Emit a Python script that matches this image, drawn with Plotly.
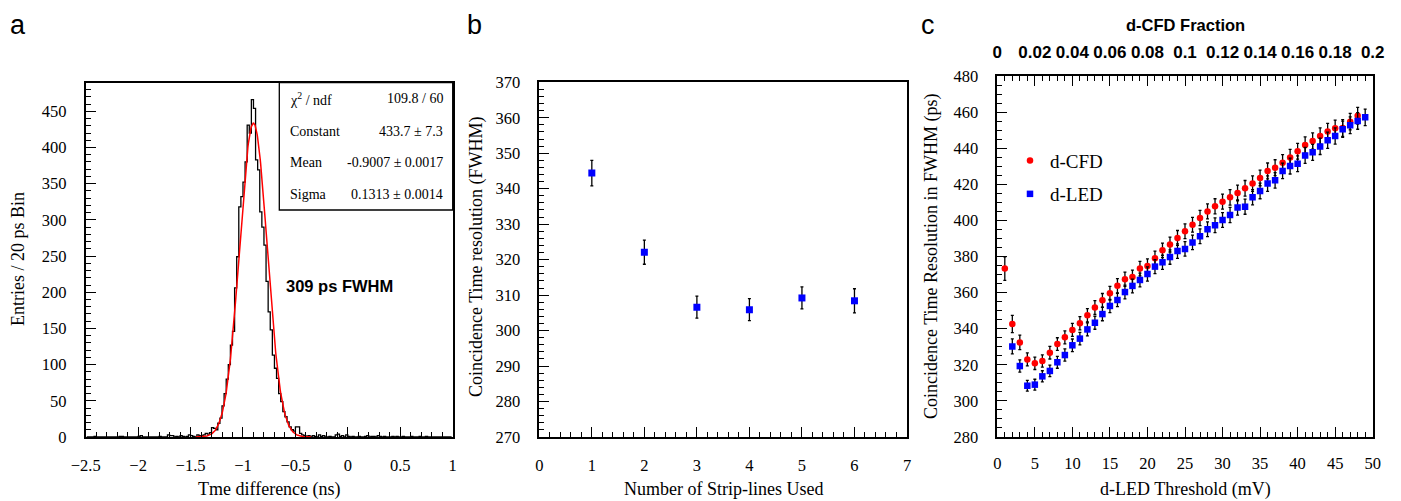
import plotly.graph_objects as go
import numpy as np

# The page places the plot 8 px in from the top-left corner (body margin),
# so the figure is sized to the remaining area and positions are given in page pixels.
PAGE_OFF = 8
W, H = 1401 - PAGE_OFF, 501 - PAGE_OFF
def px_x(p): return (p - PAGE_OFF) / W
def px_y(p): return 1 - (p - PAGE_OFF) / H

# ---------------- Panel a : histogram ----------------
hist_lo, hist_hi, bin_w = -2.5, 1.0, 0.02
counts = [0,0,0,0,1,0,0,0,0,0,0,0,0,0,0,0,1,1,0,0,
          0,0,0,0,0,1,2,0,0,0, 0,0,0,0,0,1,0,0,0,3,
          2,2,0,1,0,2,1,0,1,3, 2,1,0,3,2,
          2,3,5,4,6,13,12,10,19,26,43,60,80,100,127,146,206,249,318,332,
          352,380,431,420,466,454,383,369,311,290,265,215,173,148,113,95,81,60,49,35,
          28,21,14,10,8,14,14,5,3,2,
          1,2,0,2,1,0,3,1,2,0, 0,1,0,0,3,4,1,2,0,3,
          1,0,1,0,0,1,0,0,1,2, 0,1,1,0,2,1,0,1,0,0,
          0,1,0,1,0,0,1,0,0,0, 1,0,0,0,1,0,0,1,0,0,
          0,0,0,0,0,0,0,0,0,0]
bin_centers = [hist_lo + bin_w * (i + 0.5) for i in range(len(counts))]
fit_const, fit_mean, fit_sigma = 433.7, -0.9007, 0.1313
fit_lo, fit_hi = -1.45, -0.35

# ---------------- Panel b ----------------
strips = [1, 2, 3, 4, 5, 6]
strip_res = [344.4, 322.1, 306.6, 305.9, 309.2, 308.4]
strip_err = [3.6, 3.4, 3.1, 3.1, 3.1, 3.4]

# ---------------- Panel c ----------------
cfd_thr = list(range(1, 49))
cfd_res = [373.3, 342.6, 332.4, 323.0, 320.8, 322.1, 326.7, 331.5, 335.2, 339.3,
           343.0, 347.4, 351.7, 355.7, 359.6, 363.8, 367.4, 368.6, 373.3, 374.7,
           379.0, 383.4, 386.6, 390.3, 394.0, 397.6, 401.3, 405.0, 407.8, 410.4,
           412.8, 415.2, 417.8, 420.4, 423.5, 427.4, 429.2, 432.0, 434.9, 438.3,
           441.8, 444.0, 446.8, 449.3, 451.0, 451.2, 454.7, 458.0]
cfd_err = [6.5, 4.8, 4.0, 3.6, 3.4, 3.4, 3.5, 3.5, 3.6, 3.6, 3.7, 3.7, 3.8, 3.8, 3.8, 3.9,
           3.9, 3.9, 4.0, 4.0, 4.0, 4.0, 4.1, 4.1, 4.1, 4.1, 4.2, 4.2, 4.2, 4.2, 4.3, 4.3,
           4.3, 4.3, 4.3, 4.4, 4.4, 4.4, 4.4, 4.4, 4.5, 4.5, 4.5, 4.5, 4.5, 4.6, 4.6, 4.6]
led_thr = list(range(2, 50))
led_res = [330.2, 319.3, 308.4, 309.0, 313.6, 316.6, 321.4, 325.4, 330.8, 334.5,
           339.6, 343.3, 348.1, 352.6, 355.9, 360.3, 363.7, 367.0, 370.3, 374.4,
           376.8, 379.7, 383.0, 384.2, 387.8, 391.2, 395.1, 397.3, 400.2, 403.0,
           407.1, 407.6, 412.8, 416.3, 420.4, 422.2, 427.4, 430.1, 431.4, 436.0,
           437.7, 441.0, 444.4, 446.8, 450.5, 452.7, 455.1, 457.1]
led_err = [4.2, 3.4, 3.0, 3.0, 3.1, 3.2, 3.3, 3.4, 3.5, 3.5, 3.6, 3.6, 3.7, 3.7, 3.7, 3.8,
           3.8, 3.8, 3.9, 3.9, 3.9, 4.0, 4.0, 4.0, 4.0, 4.1, 4.1, 4.1, 4.1, 4.2, 4.2, 4.2,
           4.2, 4.3, 4.3, 4.3, 4.3, 4.4, 4.4, 4.4, 4.4, 4.5, 4.5, 4.5, 4.5, 4.6, 4.6, 4.6]
frac_ticks = [0, 0.02, 0.04, 0.06, 0.08, 0.1, 0.12, 0.14, 0.16, 0.18, 0.2]

SERIF = "Liberation Serif, Times New Roman, serif"
SANS = "Liberation Sans, Arial, sans-serif"

fig = go.Figure()

# histogram (step)
fig.add_trace(go.Scatter(x=bin_centers, y=counts, mode="lines", line_shape="hvh",
                         line=dict(color="black", width=1.3), xaxis="x", yaxis="y",
                         showlegend=False, hoverinfo="skip"))
fx = np.linspace(fit_lo, fit_hi, 300)
fy = fit_const * np.exp(-0.5 * ((fx - fit_mean) / fit_sigma) ** 2)
fig.add_trace(go.Scatter(x=fx, y=fy, mode="lines", line=dict(color="#ff0000", width=1.5),
                         xaxis="x", yaxis="y", showlegend=False, hoverinfo="skip"))

# panel b
fig.add_trace(go.Scatter(x=strips, y=strip_res, mode="markers",
                         marker=dict(symbol="square", size=7, color="#0000ff"),
                         error_y=dict(type="data", array=strip_err, color="black",
                                      thickness=1.3, width=1.5),
                         xaxis="x2", yaxis="y2", showlegend=False))

# panel c
fig.add_trace(go.Scatter(x=cfd_thr, y=cfd_res, mode="markers", name="d-CFD",
                         marker=dict(symbol="circle", size=6.5, color="#ff0000"),
                         error_y=dict(type="data", array=cfd_err, color="black",
                                      thickness=1.3, width=1.5),
                         xaxis="x3", yaxis="y3", legend="legend"))
fig.add_trace(go.Scatter(x=led_thr, y=led_res, mode="markers", name="d-LED",
                         marker=dict(symbol="square", size=6.5, color="#0000ff"),
                         error_y=dict(type="data", array=led_err, color="black",
                                      thickness=1.3, width=1.5),
                         xaxis="x3", yaxis="y3", legend="legend2"))
# carrier for top axis
fig.add_trace(go.Scatter(x=[frac_ticks[0], frac_ticks[-1]], y=[300, 300], mode="markers",
                         marker=dict(opacity=0), xaxis="x4", yaxis="y3",
                         showlegend=False, hoverinfo="skip"))

tickfont = dict(family=SERIF, size=16.5, color="black")

def ax(domain, rng, dtick, minor_dtick, anchor, standoff, tick0):
    return dict(domain=domain, range=rng, dtick=dtick, tick0=tick0,
                ticks="inside", ticklen=10, tickwidth=1.2, tickcolor="black",
                minor=dict(ticks="inside", ticklen=5, dtick=minor_dtick, tickwidth=1.2,
                           tickcolor="black"),
                showline=True, linecolor="black", linewidth=1.6, mirror=True,
                showgrid=False, zeroline=False, tickfont=tickfont, anchor=anchor,
                ticklabelstandoff=standoff, fixedrange=True, automargin=False)

xa = ax([px_x(85.7), px_x(452.7)], [-2.5, 1], 0.5, 0.1, "y", 12, -2.5)
ya = ax([px_y(437), px_y(82.7)], [0, 489.5], 50, 10, "x", 14, 0)
xb = ax([px_x(539.3), px_x(907)], [0, 7], 1, 0.2, "y2", 12, 0)
yb = ax([px_y(437), px_y(82.3)], [270, 370], 10, 2, "x2", 14, 270)
xc = ax([px_x(997.3), px_x(1372.7)], [0, 50], 5, 1, "y3", 10, 0)
yc = ax([px_y(437), px_y(76)], [280, 480], 20, 5, "x3", 14, 280)
xd = dict(domain=[px_x(997.3), px_x(1372.7)], range=[0, 0.2], overlaying="x3", side="top",
          anchor="y3", tickvals=frac_ticks, ticks="inside", ticklen=10, tickwidth=1.2,
          tickcolor="black",
          minor=dict(ticks="inside", ticklen=5, dtick=0.004, tick0=0, tickwidth=1.2,
                     tickcolor="black"),
          showline=False, showgrid=False, zeroline=False,
          tickfont=dict(family=SANS, size=17, color="black", weight="bold"),
          ticklabelstandoff=14, fixedrange=True, automargin=False)

fig.update_layout(
    width=W, height=H, margin=dict(l=0, r=0, t=0, b=0, autoexpand=False),
    paper_bgcolor="white", plot_bgcolor="white",
    xaxis=xa, yaxis=ya, xaxis2=xb, yaxis2=yb, xaxis3=xc, yaxis3=yc, xaxis4=xd,
    legend=dict(x=px_x(1010), y=px_y(160.7), xanchor="left", yanchor="middle",
                font=dict(family=SERIF, size=19, color="black"), bgcolor="rgba(0,0,0,0)",
                itemwidth=30),
    legend2=dict(x=px_x(1010), y=px_y(194), xanchor="left", yanchor="middle",
                 font=dict(family=SERIF, size=19, color="black"), bgcolor="rgba(0,0,0,0)",
                 itemwidth=30),
)

# stats box
fig.add_shape(type="rect", xref="paper", yref="paper",
              x0=px_x(279.3), x1=px_x(452.7), y0=px_y(210), y1=px_y(82.7),
              line=dict(color="black", width=1.3), fillcolor="white", layer="above")

ann = []
def A(text, x, y, xa_="center", ya_="middle", font=None, angle=0):
    ann.append(dict(text=text, x=px_x(x), y=px_y(y), xref="paper", yref="paper",
                    xanchor=xa_, yanchor=ya_, showarrow=False, textangle=angle,
                    font=font or dict(family=SERIF, size=17, color="black")))

stat_font = dict(family=SERIF, size=14, color="black")
rows = [("χ<sup>2</sup> / ndf", "109.8 / 60", 99),
        ("Constant", "433.7 ± 7.3", 131.7),
        ("Mean", "-0.9007 ± 0.0017", 162.3),
        ("Sigma", "0.1313 ± 0.0014", 194.3)]
for l, r, yy in rows:
    A(l, 287.5, yy, "left", "middle", stat_font)
    A(r, 444.5, yy, "right", "middle", stat_font)

A("<b>309 ps FWHM</b>", 283.5, 286, "left", "middle", dict(family=SANS, size=16.5, color="black"))

# panel letters
letter_font = dict(family=SANS, size=27, color="black")
A("a", 8, 25, "left", "middle", letter_font)
A("b", 465, 25, "left", "middle", letter_font)
A("c", 919, 25, "left", "middle", letter_font)

# axis titles
tf = dict(family=SERIF, size=18, color="black")
A("Entries / 20 ps Bin", 18, 259, "center", "middle", tf, -90)
A("Tme difference (ns)", 269, 489, "center", "middle", tf)
A("Coincidence Time resolution (FWHM)", 477, 257, "center", "middle", tf, -90)
A("Number of Strip-lines Used", 723, 489, "center", "middle", tf)
A("Coincidence Time Resolution in FWHM (ps)", 931, 256, "center", "middle", tf, -90)
A("d-LED Threshold (mV)", 1185, 489, "center", "middle", tf)
A("<b>d-CFD Fraction</b>", 1185, 25.5, "center", "middle", dict(family=SANS, size=16.5, color="black"))

fig.update_layout(annotations=ann)
fig.write_html("out.html")
